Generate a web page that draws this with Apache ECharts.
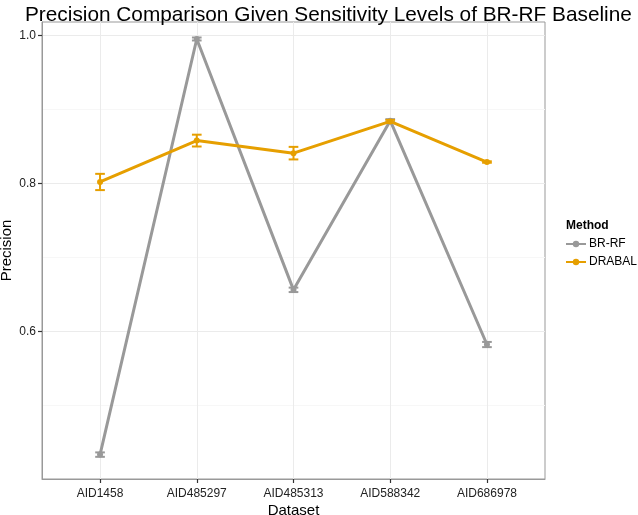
<!DOCTYPE html>
<html>
<head>
<meta charset="utf-8">
<script src="https://cdn.jsdelivr.net/npm/echarts@6/dist/echarts.min.js"></script>
<style>
  html, body { margin: 0; padding: 0; background: #fff; }
  #chart { width: 638px; height: 515px; }
</style>
</head>
<body>
<div id="chart"></div>
<script>
// data
const datasets = ['AID1458', 'AID485297', 'AID485313', 'AID588342', 'AID686978'];
const brrfMean = [0.433, 0.9955, 0.656, 0.885, 0.582];
const brrfErr = [0.003, 0.002, 0.003, 0.002, 0.0035];
const drabalMean = [0.802, 0.858, 0.841, 0.884, 0.829];
const drabalErr = [0.011, 0.008, 0.0085, 0.002, 0.001];
const yTicks = [0.6, 0.8, 1.0];
const xTicks = [0, 1, 2, 3, 4];

const font = 'Liberation Sans, Arial, sans-serif';
const grey = '#999999';
const orange = '#E69F00';

const chart = echarts.init(document.getElementById('chart'));

// error bars as a custom series: vertical line plus two caps
function errorBars(color) {
  return function (params, api) {
    const x = api.value(0);
    const lo = api.coord([x, api.value(1)]);
    const hi = api.coord([x, api.value(2)]);
    const half = api.size([0.05, 0])[0];
    const style = { stroke: color, lineWidth: 2 };
    return {
      type: 'group',
      children: [
        { type: 'line', shape: { x1: hi[0], y1: hi[1], x2: lo[0], y2: lo[1] }, style: style },
        { type: 'line', shape: { x1: hi[0] - half, y1: hi[1], x2: hi[0] + half, y2: hi[1] }, style: style },
        { type: 'line', shape: { x1: lo[0] - half, y1: lo[1], x2: lo[0] + half, y2: lo[1] }, style: style }
      ]
    };
  };
}

const toPoints = (vals) => vals.map((v, i) => [i, v]);
const toBars = (vals, errs) => vals.map((v, i) => [i, v - errs[i], v + errs[i]]);

const option = {
  animation: false,
  backgroundColor: '#fff',
  textStyle: { fontFamily: font },
  title: [
    {
      text: 'Precision Comparison Given Sensitivity Levels of BR-RF Baseline',
      left: 20,
      top: 0,
      textStyle: { fontFamily: font, fontSize: 20.8, fontWeight: 'normal', color: '#000' }
    },
    {
      text: 'Method',
      left: 561,
      top: 215,
      textStyle: { fontFamily: font, fontSize: 12, fontWeight: 'bold', color: '#000' }
    }
  ],
  legend: {
    orient: 'vertical',
    left: 560,
    top: 233,
    itemWidth: 20,
    itemHeight: 8,
    itemGap: 6,
    textStyle: { fontFamily: font, fontSize: 12, color: '#000', padding: [0, 0, 0, -2] },
    data: ['BR-RF', 'DRABAL']
  },
  grid: {
    left: 42,
    right: 93,
    top: 22,
    bottom: 36,
    outerBoundsMode: 'none',
    containLabel: false,
    show: true,
    borderColor: '#999',
    borderWidth: 1
  },
  xAxis: {
    type: 'value',
    min: -0.6,
    max: 4.6,
    name: 'Dataset',
    nameLocation: 'middle',
    nameGap: 24,
    nameMoveOverlap: false,
    nameTextStyle: { fontFamily: font, fontSize: 15, color: '#000' },
    axisLine: { show: true, onZero: false, lineStyle: { color: '#999' } },
    axisTick: { show: true, length: 4, customValues: xTicks, lineStyle: { color: '#333', width: 1.2 } },
    axisLabel: {
      customValues: xTicks,
      margin: 9,
      fontFamily: font,
      fontSize: 12,
      color: '#222',
      formatter: (v) => datasets[Math.round(v)] || ''
    },
    splitLine: { show: true, lineStyle: { color: '#ebebeb', width: 1 } }
  },
  yAxis: {
    type: 'value',
    min: 0.4,
    max: 1.0185,
    interval: 0.2,
    name: 'Precision',
    nameLocation: 'middle',
    nameGap: 28,
    nameMoveOverlap: false,
    nameTextStyle: { fontFamily: font, fontSize: 15, color: '#000' },
    axisLine: { show: true, onZero: false, lineStyle: { color: '#999' } },
    axisTick: { show: true, length: 4, customValues: yTicks, lineStyle: { color: '#333', width: 1.2 } },
    axisLabel: {
      customValues: yTicks,
      margin: 6,
      fontFamily: font,
      fontSize: 12,
      color: '#222',
      formatter: (v) => v.toFixed(1)
    },
    splitLine: { show: true, lineStyle: { color: '#ebebeb', width: 1 } },
    minorTick: { show: false, splitNumber: 2 },
    minorSplitLine: { show: true, lineStyle: { color: '#f7f7f7', width: 1 } }
  },
  series: [
    {
      name: 'BR-RF',
      type: 'line',
      data: toPoints(brrfMean),
      symbol: 'circle',
      symbolSize: 6,
      itemStyle: { color: grey },
      lineStyle: { color: grey, width: 3 },
      z: 3
    },
    {
      name: 'DRABAL',
      type: 'line',
      data: toPoints(drabalMean),
      symbol: 'circle',
      symbolSize: 6,
      itemStyle: { color: orange },
      lineStyle: { color: orange, width: 3 },
      z: 4
    },
    {
      type: 'custom',
      renderItem: errorBars(grey),
      data: toBars(brrfMean, brrfErr),
      encode: { x: 0, y: [1, 2] },
      z: 3
    },
    {
      type: 'custom',
      renderItem: errorBars(orange),
      data: toBars(drabalMean, drabalErr),
      encode: { x: 0, y: [1, 2] },
      z: 4
    }
  ]
};

chart.setOption(option);
</script>
</body>
</html>
